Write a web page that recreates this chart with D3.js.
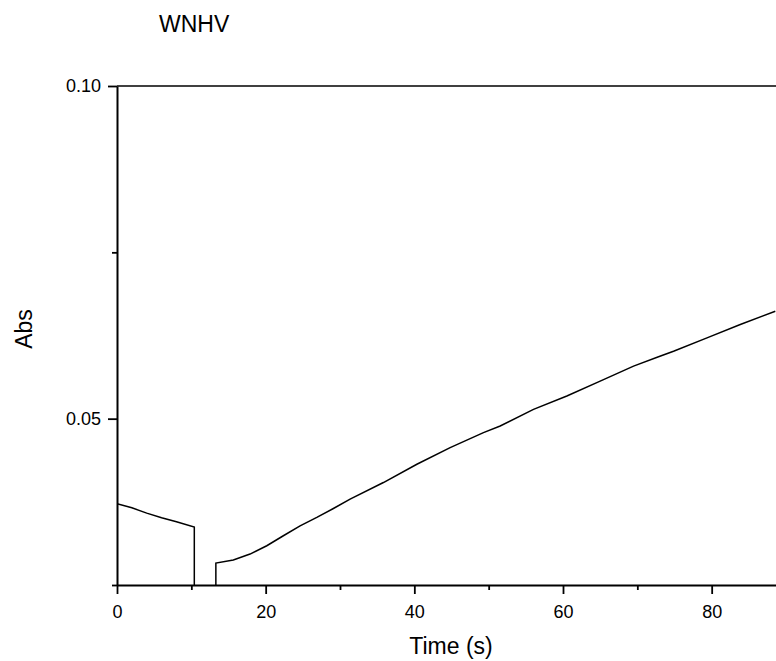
<!DOCTYPE html>
<html><head><meta charset="utf-8">
<script src="https://cdn.jsdelivr.net/npm/d3@7"></script>
<style>body{margin:0;background:#fff}svg{display:block}text{font-family:"Liberation Sans",Arial,sans-serif;fill:#000}</style>
</head><body><div id="chart"></div>
<script>
const chartTitle = "WNHV";
const xLabel = "Time (s)";
const yLabel = "Abs";
const xTicks = [0, 20, 40, 60, 80];
const xMinorTicks = [10, 30, 50, 70, 90];
const yTicks = [0.05, 0.10];
const yMinorTicks = [0.025, 0.075];
// segment 1 (before mixing gap)
const seg1X = [0, 2, 4, 6, 8, 10.4, 10.4];
const seg1Y = [0.0372, 0.0366, 0.0358, 0.0351, 0.0345, 0.0337, 0.02];
// segment 2 (after gap)
const seg2X = [13.3, 13.3, 15.65, 17.9, 20.15, 22.38, 24.63, 26.88, 29.11, 31.36, 35.84, 40.34, 44.82, 49.3, 51.55, 56.03, 60.52, 65.0, 69.49, 72.85, 74.87, 79.37, 83.85, 88.56];
const seg2Y = [0.02, 0.0283, 0.02875, 0.02965, 0.0309, 0.0324, 0.0339, 0.03516, 0.0365, 0.0379, 0.0404, 0.04315, 0.04565, 0.0479, 0.0489, 0.0514, 0.0534, 0.05564, 0.0579, 0.0593, 0.06014, 0.06215, 0.06415, 0.06614];

const W = 776, H = 661;
const m = {left: 117, top: 86, right: 786, bottom: 585};
const svg = d3.select("#chart").append("svg").attr("width", W).attr("height", H);
const x = d3.scaleLinear().domain([0, 90]).range([m.left, m.right]);
const y = d3.scaleLinear().domain([0.025, 0.10]).range([m.bottom, m.top]);

svg.append("defs").append("clipPath").attr("id", "clip")
  .append("rect").attr("x", m.left).attr("y", m.top).attr("width", m.right - m.left).attr("height", m.bottom - m.top);

const line = d3.line().x(d => x(d[0])).y(d => y(d[1]));
const g = svg.append("g").attr("clip-path", "url(#clip)");
[[seg1X, seg1Y], [seg2X, seg2Y]].forEach(([xs, ys]) => {
  g.append("path").datum(xs.map((v, i) => [v, ys[i]]))
    .attr("fill", "none").attr("stroke", "#000").attr("stroke-width", 1.5).attr("d", line);
});

// top border
svg.append("line").attr("x1", m.left).attr("x2", m.right).attr("y1", m.top).attr("y2", m.top)
  .attr("stroke", "#000").attr("stroke-width", 1.6);

// x axis
svg.append("g").attr("transform", `translate(0,${m.bottom})`)
  .call(d3.axisBottom(x).tickValues(xTicks).tickFormat(d3.format("d")).tickSize(9).tickPadding(11).tickSizeOuter(0));
svg.append("g").attr("transform", `translate(0,${m.bottom})`)
  .call(d3.axisBottom(x).tickValues(xMinorTicks).tickFormat("").tickSize(5).tickSizeOuter(0))
  .select(".domain").remove();
// y axis
svg.append("g").attr("transform", `translate(${m.left},0)`)
  .call(d3.axisLeft(y).tickValues(yTicks).tickFormat(d3.format(".2f")).tickSize(9).tickPadding(7).tickSizeOuter(0));
svg.append("g").attr("transform", `translate(${m.left},0)`)
  .call(d3.axisLeft(y).tickValues(yMinorTicks).tickFormat("").tickSize(5).tickSizeOuter(0))
  .select(".domain").remove();

svg.selectAll(".domain").attr("stroke-width", 2);
svg.selectAll(".tick line").attr("stroke-width", 1.8);
svg.selectAll(".tick text").style("font-size", "18px").style("font-family", '"Liberation Sans",Arial,sans-serif');

svg.append("text").attr("x", 159).attr("y", 32).style("font-size", "23px").text(chartTitle);
svg.append("text").attr("x", 451).attr("y", 654).attr("text-anchor", "middle").style("font-size", "23px").text(xLabel);
svg.append("text").attr("transform", "translate(32,329) rotate(-90)").attr("text-anchor", "middle").style("font-size", "23px").text(yLabel);
</script></body></html>
